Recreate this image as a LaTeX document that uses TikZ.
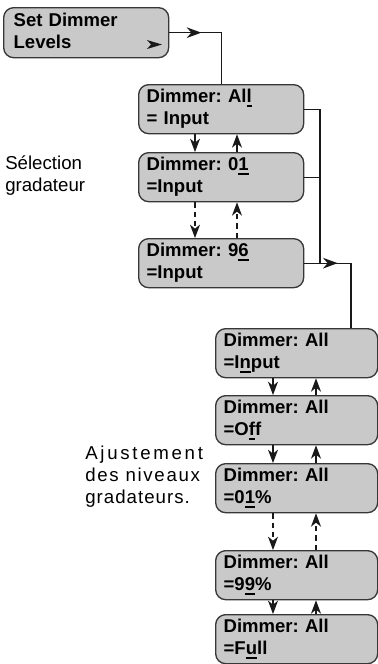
\documentclass[tikz,border=0pt]{standalone}
\usepackage{fontspec}
\setmainfont{Liberation Sans}
\usetikzlibrary{calc,arrows.meta,decorations.markings}

\definecolor{lcdgray}{RGB}{201,201,201}
\definecolor{edgegray}{RGB}{55,55,55}

% cursor bar under the edited character
\newcommand{\cur}[1]{\setbox0=\hbox{#1}\rlap{\rule[-3.4pt]{\wd0}{1.7pt}}\box0}
\frenchspacing

\begin{document}
\begin{tikzpicture}[x=0.75pt,y=-0.75pt,
  lcd/.style={draw=edgegray,line width=1pt,fill=lcdgray,rounded corners=7.5pt,
    anchor=north west,inner xsep=6pt,inner ysep=0pt,minimum height=36.75pt,
    align=left,font=\bfseries\fontsize{13.9}{16.5}\selectfont,
    execute at begin node=\strut,execute at end node=\strut},
  upper/.style={lcd,text width=111.75pt},
  lower/.style={lcd,text width=109.5pt},
  wire/.style={line width=0.9pt,black!90},
  flow/.style={wire,-{Stealth[length=10pt,width=7.5pt,inset=3pt]}},
  midarrow/.style={wire,postaction={decorate},decoration={markings,
    mark=at position #1 with {\arrow{Stealth[length=11pt,width=8pt,inset=3.5pt]}}}},
  side/.style={anchor=north west,inner sep=0pt,align=left,font=\fontsize{14}{16.5}\selectfont}]

\useasboundingbox (0,0) rectangle (378,664);

\node[lcd,text width=108.75pt,inner xsep=7.5pt,minimum height=37.5pt] (set) at (3,7) {Set Dimmer\\Levels};
\fill[black!90] (147,40) -- (162,44.5) -- (147,49) -- (151,44.5) -- cycle;

\node[upper] (all) at (138,84) {Dimmer: Al\cur{l}\\= Input};
\node[upper] (d01) at (138,152) {Dimmer: 0\cur{1}\\=Input};
\node[upper] (d96) at (138,238) {Dimmer: 9\cur{6}\\=Input};

\node[lower] (lin) at (215,328) {Dimmer: All\\=I\cur{n}put};
\node[lower] (loff) at (215,395) {Dimmer: All\\=O\cur{f}f};
\node[lower] (l01) at (215,463) {Dimmer: All\\=0\cur{1}\%};
\node[lower] (l99) at (215,550) {Dimmer: All\\=9\cur{9}\%};
\node[lower] (lfull) at (215,614) {Dimmer: All\\=F\cur{u}ll};

\node[side] (sel) at (5,155) {Sélection\\gradateur};
\node[side] (adj) at (85,446) {{\addfontfeature{LetterSpace=14.5}Ajustement}\\
  {\addfontfeature{LetterSpace=9}des niveaux}\\
  {\addfontfeature{LetterSpace=5.5}gradateurs.}};

% menu entry into the dimmer selection
\draw[midarrow=24pt] (set.east) -| (all.north);

% selection up / down
\draw[flow] ($(all.south west)+(57,0)$) -- ($(d01.north west)+(57,0)$);
\draw[flow] ($(d01.north west)+(99,0)$) -- ($(all.south west)+(99,0)$);
\draw[flow,dashed,dash pattern=on 4pt off 3pt] ($(d01.south west)+(57,0)$) -- ($(d96.north west)+(57,0)$);
\draw[flow,dashed,dash pattern=on 4pt off 3pt] ($(d96.north west)+(99,0)$) -- ($(d01.south west)+(99,0)$);

% bus to the level settings
\coordinate (busA) at (320,0);
\coordinate (busB) at (351,0);
\draw[wire] (all.east) -| (busA |- d96.east);
\draw[wire] (d01.east) -- (d01.east -| busA);
\draw[midarrow=25pt] (d96.east) -- (d96.east -| busB) -- (busB |- lin.north);

% levels up / down
\draw[flow] ($(lin.south west)+(58,0)$) -- ($(loff.north west)+(58,0)$);
\draw[flow] ($(loff.north west)+(101,0)$) -- ($(lin.south west)+(101,0)$);
\draw[flow] ($(loff.south west)+(58,0)$) -- ($(l01.north west)+(58,0)$);
\draw[flow] ($(l01.north west)+(101,0)$) -- ($(loff.south west)+(101,0)$);
\draw[flow,dashed,dash pattern=on 4pt off 3pt] ($(l01.south west)+(58,0)$) -- ($(l99.north west)+(58,0)$);
\draw[flow,dashed,dash pattern=on 4pt off 3pt] ($(l99.north west)+(101,0)$) -- ($(l01.south west)+(101,0)$);
\draw[flow] ($(l99.south west)+(58,0)$) -- ($(lfull.north west)+(58,0)$);
\draw[flow] ($(lfull.north west)+(101,0)$) -- ($(l99.south west)+(101,0)$);

\end{tikzpicture}
\end{document}
